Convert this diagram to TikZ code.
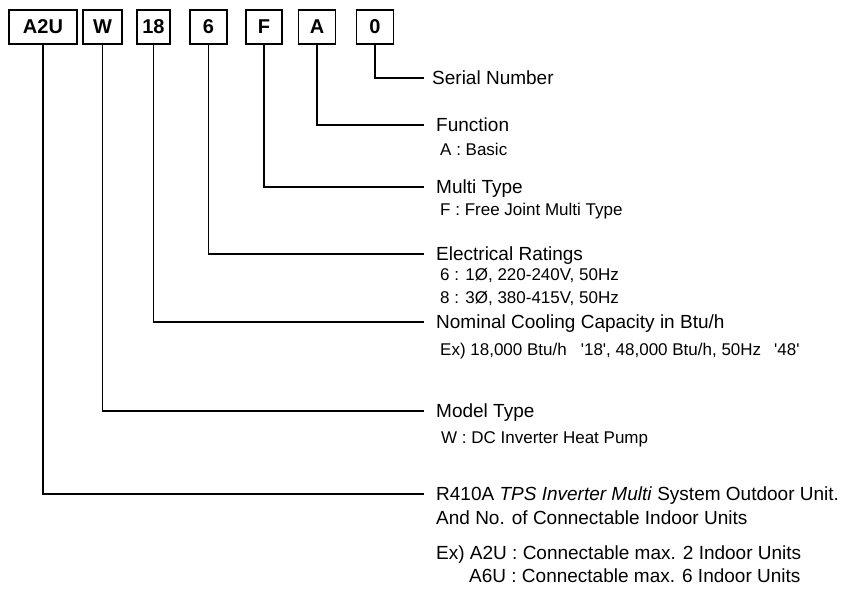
\documentclass[tikz,border=0pt]{standalone}
\usepackage{fontspec}
\newfontfamily\lsans{Liberation Sans}
\begin{document}
\begin{tikzpicture}[x=1pt,y=-1pt,
  box/.style={draw, line width=1.8pt, minimum height=34pt, minimum width=36pt, inner xsep=0pt, inner ysep=0pt, font=\lsans\bfseries\fontsize{20}{20}\selectfont},
  lbl/.style={anchor=west, inner xsep=12pt, inner ysep=0pt, text height=13.7pt, text depth=0pt, font=\lsans\fontsize{19}{19}\selectfont},
  mainsub/.style={anchor=west, inner sep=0pt, text height=13.7pt, text depth=0pt, font=\lsans\fontsize{19}{19}\selectfont},
  sub/.style={anchor=west, inner sep=0pt, text height=12.2pt, text depth=0pt, font=\lsans\fontsize{17}{17}\selectfont},
  conn/.style={line width=1.2pt}]
\useasboundingbox (0,0) rectangle (843,589);
% code boxes
\node[box, minimum width=68pt] (bA2U) at (43,27) {A2U};
\node[box, minimum width=39pt] (bW) at (102.5,27) {W};
\node[box, minimum width=33pt] (b18) at (153.5,27) {18};
\node[box, minimum width=37pt] (b6) at (208.5,27) {6};
\node[box, minimum width=36pt] (bF) at (264,27) {F};
\node[box, minimum width=37pt] (bA) at (317,27) {A};
\node[box, minimum width=37pt] (b0) at (375,27) {0};
% labels
\node[lbl, inner xsep=8pt] (serial) at (424,78) {Serial Number};
\node[lbl] (func) at (424,125) {Function};
\node[sub] (basic) at (440,149) {A : Basic};
\node[lbl] (multi) at (424,187) {Multi Type};
\node[sub] (free) at (440,209) {F : Free Joint Multi Type};
\node[lbl] (elec) at (424,254) {Electrical Ratings};
\node[sub] (r6) at (440,274) {6 : 1Ø, 220-240V, 50Hz};
\node[sub] (r8) at (440,297) {8 : 3Ø, 380-415V, 50Hz};
\node[lbl] (nominal) at (424,322) {Nominal Cooling Capacity in Btu/h};
\node[sub] (ex18) at (440,349) {Ex) 18,000 Btu/h\hspace{14pt}'18', 48,000 Btu/h, 50Hz\hspace{13pt}'48'};
\node[lbl] (model) at (424,411) {Model Type};
\node[sub] (wdc) at (441,437) {W : DC Inverter Heat Pump};
\node[lbl] (r410) at (424,494) {R410A \textit{TPS Inverter Multi} System Outdoor Unit.};
\node[mainsub] (andno) at (436,518) {And No. of Connectable Indoor Units};
\node[mainsub] (exa2u) at (436,553) {Ex) A2U : Connectable max. 2 Indoor Units};
\node[mainsub] (a6u) at (469,576) {A6U : Connectable max. 6 Indoor Units};
% connectors
\draw[conn] (b0.south) |- (serial.west);
\draw[conn] (bA.south) |- (func.west);
\draw[conn] (bF.south) |- (multi.west);
\draw[conn] (b6.south) |- (elec.west);
\draw[conn] (b18.south) |- (nominal.west);
\draw[conn] (bW.south) |- (model.west);
\draw[conn] (bA2U.south) |- (r410.west);
\end{tikzpicture}
\end{document}
